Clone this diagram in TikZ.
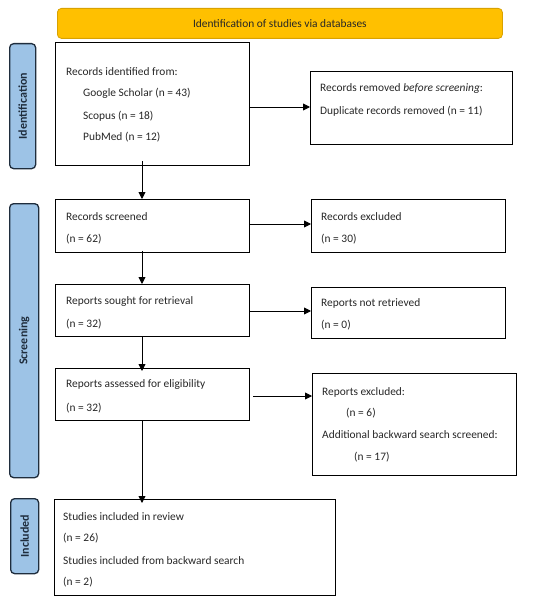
\documentclass[tikz,border=0pt]{standalone}
\usepackage{fontspec}
\setmainfont{Carlito}
\usetikzlibrary{arrows.meta}
\definecolor{bannerfill}{HTML}{FFC000}
\definecolor{bannerline}{HTML}{D9A200}
\definecolor{sidefill}{HTML}{9DC3E6}
\definecolor{sideline}{HTML}{1F2D3D}
\tikzset{
  box/.style={draw=black, line width=1.2pt, anchor=north west, inner sep=0pt},
  txt/.style={anchor=west, inner sep=0pt, font=\fontsize{11.4}{13}\selectfont, text=black!85},
  side/.style={draw=sideline, fill=sidefill, line width=1.3pt, rounded corners=4pt, anchor=north west, inner sep=0pt},
  sidetxt/.style={rotate=90, inner sep=0pt, font=\fontsize{12}{14}\selectfont\bfseries, text=sideline},
  arr/.style={-{Triangle[length=7pt,width=7pt]}, line width=0.9pt, black},
}
\begin{document}
\begin{tikzpicture}[x=1pt,y=-1pt]
\useasboundingbox (0,0) rectangle (550,602);
% banner
\node[draw=bannerline, fill=bannerfill, line width=0.8pt, rounded corners=4pt, anchor=north west, inner sep=0pt, minimum width=445pt, minimum height=30pt] (banner) at (57,8) {};
\node[inner sep=0pt, font=\fontsize{11.4}{13}\selectfont, text=black!85] (bannertxt) at (banner.center) {Identification of studies via databases};
% side labels
\node[side, minimum width=26pt, minimum height=125pt] (sid) at (9,43) {};
\node[sidetxt] (sidt) at (sid.center) {Identification};
\node[side, minimum width=29pt, minimum height=274pt] (sscr) at (9,203) {};
\node[sidetxt] (sscrt) at (sscr.center) {Screening};
\node[side, minimum width=28pt, minimum height=75pt] (sinc) at (10,498) {};
\node[sidetxt] (sinct) at (sinc.center) {Included};
% boxes
\node[box, minimum width=194pt, minimum height=123pt] (b1) at (55,42) {};
\node[box, minimum width=202pt, minimum height=73pt] (r1) at (310,71) {};
\node[box, minimum width=194pt, minimum height=53pt] (b2) at (55,199) {};
\node[box, minimum width=194pt, minimum height=53pt] (r2) at (311,199) {};
\node[box, minimum width=194pt, minimum height=52pt] (b3) at (55,284) {};
\node[box, minimum width=194pt, minimum height=51pt] (r3) at (311,287) {};
\node[box, minimum width=194pt, minimum height=52pt] (b4) at (55,368) {};
\node[box, minimum width=204pt, minimum height=102pt] (r4) at (312,373) {};
\node[box, minimum width=281pt, minimum height=96pt] (b5) at (54,499) {};
% texts
\node[txt] (t11) at (66,72) {Records identified from:};
\node[txt] (t12) at (83,93) {Google Scholar (n = 43)};
\node[txt] (t13) at (83,116) {Scopus (n = 18)};
\node[txt] (t14) at (83,137) {PubMed (n = 12)};
\node[txt] (tr11) at (320,89) {Records removed \textit{before screening}:};
\node[txt] (tr12) at (320,111) {Duplicate records removed (n = 11)};
\node[txt] (t21) at (66,217) {Records screened};
\node[txt] (t22) at (66,239) {(n = 62)};
\node[txt] (tr21) at (321,217) {Records excluded};
\node[txt] (tr22) at (321,239) {(n = 30)};
\node[txt] (t31) at (66,302) {Reports sought for retrieval};
\node[txt] (t32) at (66,324) {(n = 32)};
\node[txt] (tr31) at (321,303) {Reports not retrieved};
\node[txt] (tr32) at (321,325) {(n = 0)};
\node[txt] (t41) at (66,385) {Reports assessed for eligibility};
\node[txt] (t42) at (66,408) {(n = 32)};
\node[txt] (tr41) at (322,392) {Reports excluded:};
\node[txt] (tr42) at (346,413) {(n = 6)};
\node[txt] (tr43) at (322,435) {Additional backward search screened:};
\node[txt] (tr44) at (354,457) {(n = 17)};
\node[txt] (t51) at (63,517) {Studies included in review};
\node[txt] (t52) at (63,538) {(n = 26)};
\node[txt] (t53) at (63,561) {Studies included from backward search};
\node[txt] (t54) at (63,582) {(n = 2)};
% arrows
\draw[arr] (b1.east |- 0,107) -- (r1.west |- 0,107);
\draw[arr] (b2.east |- 0,224) -- (r2.west |- 0,224);
\draw[arr] (b3.east |- 0,311) -- (r3.west |- 0,311);
\draw[arr] ([xshift=3pt]b4.east |- 0,396) -- (r4.west |- 0,396);
\draw[arr] ([yshift=5pt]b1.south -| 142,0) -- (b2.north -| 142,0);
\draw[arr] ([yshift=2pt]b2.south -| 142,0) -- (b3.north -| 142,0);
\draw[arr] ([yshift=1pt]b3.south -| 142,0) -- ([yshift=-3pt]b4.north -| 142,0);
\draw[arr] (b4.south -| 142,0) -- ([yshift=-4pt]b5.north -| 142,0);
\end{tikzpicture}
\end{document}
